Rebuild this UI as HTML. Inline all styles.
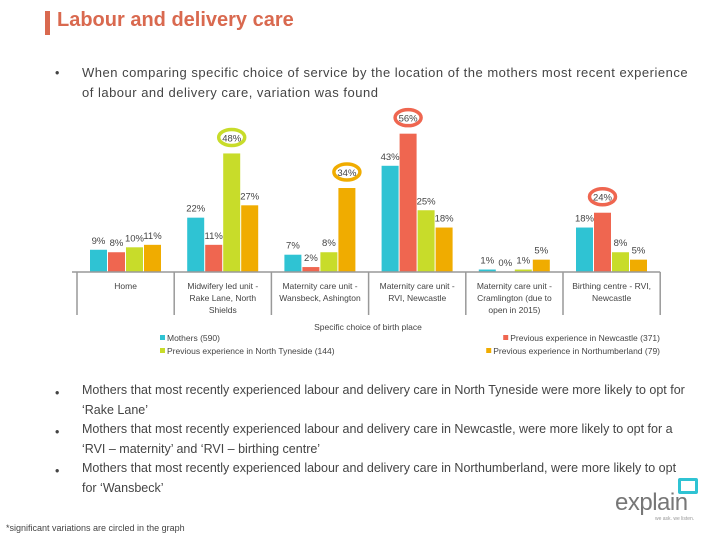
<!DOCTYPE html>
<html><head><meta charset="utf-8"><style>
body{margin:0;width:720px;height:540px;background:#fff;font-family:"Liberation Sans",sans-serif;position:relative;overflow:hidden;color:#444}
.abs{position:absolute}
.title{left:57px;top:9px;font-size:20px;font-weight:bold;color:#d9694f}
.tbar{left:45px;top:11px;width:5px;height:24px;background:#d9694f}
.b{left:55px;font-size:12.5px}
.t{left:82px;font-size:12.5px;line-height:20px;width:606px}
</style></head><body>
<div class="abs tbar"></div>
<div class="abs title">Labour and delivery care</div>
<div class="abs b" style="top:66px">•</div>
<div class="abs t" style="top:63px;font-size:13px;letter-spacing:0.5px;white-space:nowrap;width:auto">When comparing specific choice of service by the location of the mothers most recent experience<br>of labour and delivery care, variation was found</div>
<svg class="abs" style="left:0;top:0" width="720" height="370" id="chart"></svg>
<div class="abs b" style="top:386px">•</div>
<div class="abs t" style="top:380px">Mothers that most recently experienced labour and delivery care in North Tyneside were more likely to opt for ‘Rake Lane’</div>
<div class="abs b" style="top:425px">•</div>
<div class="abs t" style="top:419px">Mothers that most recently experienced labour and delivery care in Newcastle, were more likely to opt for a ‘RVI – maternity’ and ‘RVI – birthing centre’</div>
<div class="abs b" style="top:464px">•</div>
<div class="abs t" style="top:458px">Mothers that most recently experienced labour and delivery care in Northumberland, were more likely to opt for ‘Wansbeck’</div>
<div class="abs" style="left:6px;top:523px;font-size:9px">*significant variations are circled in the graph</div>
<div class="abs" style="left:615px;top:489px;font-size:24px;color:#777;letter-spacing:-0.5px">explain</div>
<div class="abs" style="left:678px;top:478px;width:14px;height:10px;border:3px solid #2fc3d3;border-radius:2px"></div>
<div class="abs" style="left:655px;top:516px;font-size:5px;color:#999">we ask. we listen.</div>
<script>
const categories=[["Home"],["Midwifery led unit -","Rake Lane, North","Shields"],["Maternity care unit -","Wansbeck, Ashington"],["Maternity care unit -","RVI, Newcastle"],["Maternity care unit -","Cramlington (due to","open in 2015)"],["Birthing centre - RVI,","Newcastle"]];
const mothers=[9,22,7,43,1,18];
const newcastle=[8,11,2,56,0,24];
const northTyneside=[10,48,8,25,1,8];
const northumberland=[11,27,34,18,5,5];
const circled=[[1,2],[2,3],[3,1],[5,1]];
const seriesNames=["Mothers (590)","Previous experience in Newcastle (371)","Previous experience in North Tyneside (144)","Previous experience in Northumberland (79)"];
const colors=["#2fc3d3","#ef6650","#c8dc2a","#f0ac00"];
const series=[mothers,newcastle,northTyneside,northumberland];
const svg=document.getElementById('chart');const NS="http://www.w3.org/2000/svg";
const x0=77,gw=97.2,base=272,k=2.47,bw=17;
const y=v=>base-v*k;
function mk(t,a){const e=document.createElementNS(NS,t);for(const q in a)e.setAttribute(q,a[q]);svg.appendChild(e);return e;}
categories.forEach((c,i)=>{
  series.forEach((s,j)=>{
    const bx=x0+i*gw+13+j*18;
    const r=mk('rect',{x:bx,y:y(s[i]),width:bw,height:s[i]*k,fill:colors[j]});
    
    
    const isC=circled.some(p=>p[0]===i&&p[1]===j);
    const ly=isC?y(s[i])-12:y(s[i])-6;
    if(isC){const e=mk('ellipse',{cx:bx+bw/2,cy:ly-4,rx:13,ry:8,fill:'#fff',stroke:colors[j],'stroke-width':3.5});
      
      }
    const t=mk('text',{x:bx+bw/2,y:ly,'text-anchor':'middle','font-size':9.5,fill:'#444'});
    t.textContent=s[i]+'%';
    
    
  });
  c.forEach((ln,li)=>{const t=mk('text',{x:x0+i*gw+gw/2,y:289+li*12,'text-anchor':'middle','font-size':8.5,fill:'#444'});t.textContent=ln;
    
    });
});
for(let i=0;i<=categories.length;i++){const l=mk('line',{x1:x0+i*gw,y1:272,x2:x0+i*gw,y2:315,stroke:'#999','stroke-width':1.5});
  
  }
const ax=mk('line',{x1:x0-5,y1:272,x2:x0+6*gw,y2:272,stroke:'#999','stroke-width':1.5});


const at=mk('text',{x:368,y:330,'text-anchor':'middle','font-size':8.5,fill:'#444'});at.textContent='Specific choice of birth place';


const lp=[[160,341,'start'],[660,341,'end'],[160,354,'start'],[660,354,'end']];
seriesNames.forEach((n,j)=>{
  const g=document.createElementNS(NS,'g');svg.appendChild(g);
  
  
  const [lx,ly,anc]=lp[j];
  const t=document.createElementNS(NS,'text');t.setAttribute('font-size',8.5);t.setAttribute('fill','#444');t.textContent=n;
  g.appendChild(t);
  const r=document.createElementNS(NS,'rect');r.setAttribute('width',5);r.setAttribute('height',5);r.setAttribute('fill',colors[j]);r.setAttribute('y',ly-6);g.appendChild(r);
  if(anc==='start'){r.setAttribute('x',lx);t.setAttribute('x',lx+7);t.setAttribute('y',ly);}
  else{t.setAttribute('x',lx);t.setAttribute('y',ly);t.setAttribute('text-anchor','end');const w=t.getComputedTextLength();r.setAttribute('x',lx-w-7);}
});
</script>
</body></html>
